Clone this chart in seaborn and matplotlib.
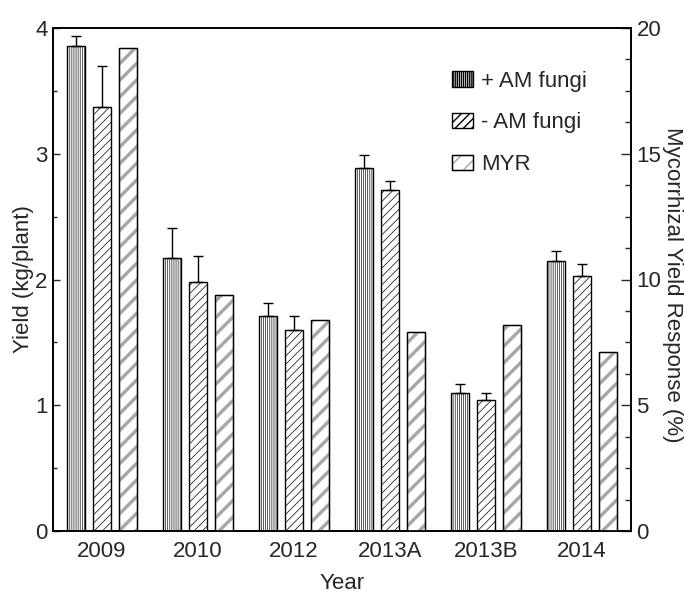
import numpy as np
import pandas as pd
import matplotlib
matplotlib.use("Agg")
import matplotlib.pyplot as plt
import matplotlib.patches as mpatches
from matplotlib.ticker import MultipleLocator
from matplotlib.legend_handler import HandlerTuple
import seaborn as sns

years = ["2009", "2010", "2012", "2013A", "2013B", "2014"]
series = ["+ AM fungi", "- AM fungi", "MYR"]
am_plus = [3.86, 2.17, 1.71, 2.89, 1.10, 2.15]
am_plus_err = [0.08, 0.24, 0.10, 0.10, 0.07, 0.08]
am_minus = [3.37, 1.98, 1.60, 2.71, 1.04, 2.03]
am_minus_err = [0.33, 0.21, 0.11, 0.07, 0.06, 0.09]
myr = [19.2, 9.4, 8.4, 7.9, 8.2, 7.1]

sns.set_style("ticks")
plt.rcParams["font.family"] = ["Liberation Sans", "DejaVu Sans"]
plt.rcParams["font.size"] = 16

df_yield = pd.DataFrame({
    "Year": years * 2,
    "Series": [series[0]] * len(years) + [series[1]] * len(years),
    "Value": am_plus + am_minus,
    "Err": am_plus_err + am_minus_err,
})
df_myr = pd.DataFrame({"Year": years, "Series": [series[2]] * len(years), "Value": myr})

fig = plt.figure(figsize=(6.84, 5.97), dpi=100)
ax = fig.add_axes([53 / 684, 1 - 531 / 597, 578 / 684, 503 / 597])
ax2 = ax.twinx()

W = 0.8125
GAP = 0.308
hatches = {series[0]: "||||||||", series[1]: "////"}
hlw = {series[0]: 0.45, series[1]: 0.5}
MYR_HATCH_COLOR = "#a6a6a6"
MYR_HATCH = "//"
MYR_HLW = 2.4

def set_hlw(p, lw):
    if hasattr(p, "set_hatch_linewidth"):
        p.set_hatch_linewidth(lw)

sns.barplot(data=df_yield, x="Year", y="Value", hue="Series", hue_order=series,
            order=years, ax=ax, width=W, gap=GAP, dodge=True, color="white",
            errorbar=None, edgecolor="black", linewidth=1.0, legend=False, saturation=1)

for cont, s in zip(ax.containers, series[:2]):
    sub = df_yield[df_yield["Series"] == s]
    xs, ys = [], []
    for p in cont.patches:
        p.set_facecolor("white")
        p.set_edgecolor("black")
        p.set_hatch(hatches[s])
        set_hlw(p, hlw[s])
        xs.append(p.get_x() + p.get_width() / 2)
        ys.append(p.get_height())
    errs = sub["Err"].to_numpy()
    ax.errorbar(xs, ys, yerr=[np.zeros_like(errs), errs], fmt="none",
                ecolor="black", elinewidth=1.0, capsize=3.3, capthick=1.0, zorder=1)

# MYR bars: gray band hatch layer, then black outline layer
with plt.rc_context({"hatch.linewidth": MYR_HLW}):
    sns.barplot(data=df_myr, x="Year", y="Value", hue="Series", hue_order=series,
                order=years, ax=ax2, width=W, gap=GAP, dodge=True, color="white",
                errorbar=None, edgecolor=MYR_HATCH_COLOR, linewidth=1.0,
                legend=False, saturation=1)
n_first = len(ax2.containers)
for cont in ax2.containers:
    for p in cont.patches:
        p.set_facecolor("white")
        p.set_edgecolor(MYR_HATCH_COLOR)
        p.set_hatch(MYR_HATCH)
        set_hlw(p, MYR_HLW)
sns.barplot(data=df_myr, x="Year", y="Value", hue="Series", hue_order=series,
            order=years, ax=ax2, width=W, gap=GAP, dodge=True, fill=False,
            color="black", errorbar=None, linewidth=1.0, legend=False, saturation=1)
for cont in ax2.containers[n_first:]:
    for p in cont.patches:
        p.set_edgecolor("black")
        p.set_facecolor("none")
        p.set_hatch(None)
        p.set_linewidth(1.0)

ax.set_xlim(-0.51, 5.51)
ax.set_ylim(0, 4)
ax2.set_ylim(0, 20)
ax.yaxis.set_major_locator(MultipleLocator(1))
ax.yaxis.set_minor_locator(MultipleLocator(0.5))
ax2.yaxis.set_major_locator(MultipleLocator(5))
ax2.yaxis.set_minor_locator(MultipleLocator(1.25))

ax.tick_params(axis="y", which="major", direction="in", length=5, width=1, labelsize=16, pad=4,
               right=False)
ax.tick_params(axis="y", which="minor", direction="in", length=3, width=1, right=False)
ax.tick_params(axis="x", which="both", length=0, labelsize=16, pad=7)
ax2.tick_params(axis="y", which="major", direction="in", length=7, width=1, labelsize=16, pad=4)
ax2.tick_params(axis="y", which="minor", direction="in", length=4, width=1)

for a in (ax, ax2):
    for sp in a.spines.values():
        sp.set_linewidth(1.2)
        sp.set_color("black")

ax.set_xlabel("Year", fontsize=16, labelpad=8)
ax.set_ylabel("Yield (kg/plant)", fontsize=16, labelpad=1)
ax2.set_ylabel("Mycorrhizal Yield Response (%)", fontsize=16, rotation=270,
               va="center", ha="center")
ax2.yaxis.set_label_coords(1.071, 0.49)

h1 = mpatches.Patch(facecolor="white", edgecolor="black", hatch=hatches[series[0]], lw=1)
set_hlw(h1, hlw[series[0]])
h2 = mpatches.Patch(facecolor="white", edgecolor="black", hatch=hatches[series[1]], lw=1)
set_hlw(h2, hlw[series[1]])
with plt.rc_context({"hatch.linewidth": MYR_HLW}):
    h3a = mpatches.Patch(facecolor="white", edgecolor=MYR_HATCH_COLOR, hatch=MYR_HATCH, lw=1)
set_hlw(h3a, MYR_HLW)
h3b = mpatches.Patch(fill=False, edgecolor="black", lw=1)
ax2.legend([h1, h2, (h3a, h3b)], series, handler_map={tuple: HandlerTuple(ndivide=1)},
           loc="upper left", bbox_to_anchor=(0.69, 0.915), frameon=False, fontsize=16,
           handlelength=0.95, handleheight=0.68, handletextpad=0.35, labelspacing=0.93,
           borderpad=0, borderaxespad=0)

fig.savefig("out.png", dpi=100)
